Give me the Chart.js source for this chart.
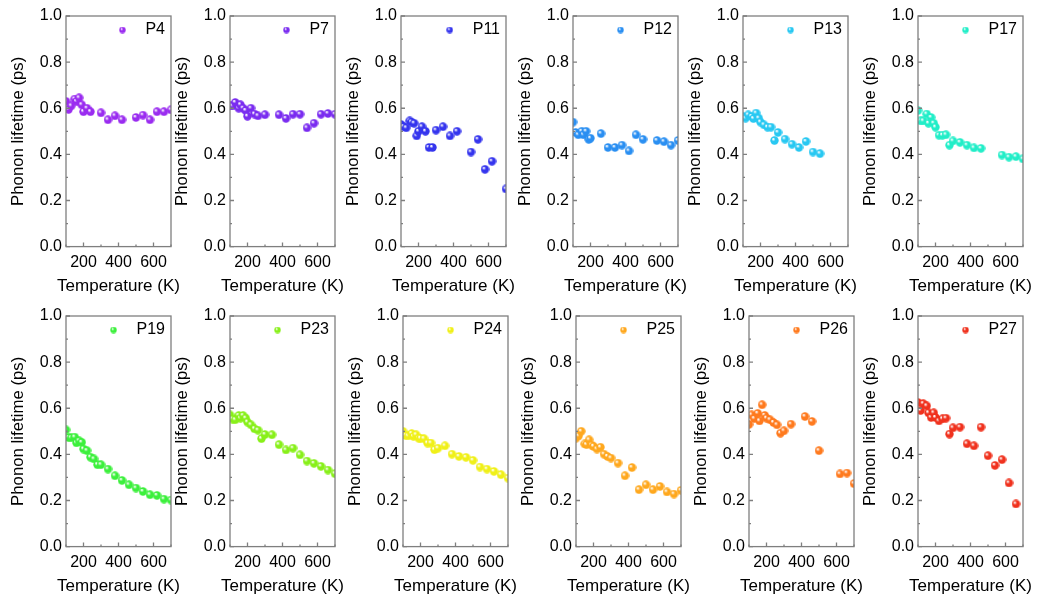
<!DOCTYPE html>
<html>
<head>
<meta charset="utf-8">
<script src="https://cdn.jsdelivr.net/npm/chart.js@4.4.0/dist/chart.umd.min.js"></script>
<style>
  body { margin: 0; background: #fff; }
  #wrap { position: relative; width: 1040px; height: 604px; overflow: hidden; }
  #wrap canvas { position: absolute; }
</style>
</head>
<body>
<div id="wrap"></div>
<script>
// temperature grid (K) shared by all panels
const temps = [100, 115, 130, 150, 160, 175, 190, 200, 220, 240, 260, 280, 300, 340, 380, 420, 460, 500, 540, 580, 620, 660, 700];

// phonon lifetime (ps), null = no point at that temperature
const p4  = [0.63, 0.595, 0.61, 0.64, 0.63, 0.645, 0.615, 0.585, 0.60, 0.585, null, null, 0.58, 0.55, 0.567, 0.55, null, 0.56, 0.57, 0.55, 0.585, 0.585, 0.593];
const p7  = [0.61, 0.61, 0.625, 0.60, 0.615, 0.60, 0.59, 0.565, 0.60, 0.575, 0.567, null, 0.572, null, 0.572, 0.556, 0.574, 0.574, 0.515, 0.535, 0.574, 0.577, 0.574];
const p11 = [0.53, 0.52, 0.515, 0.545, 0.54, 0.535, 0.48, 0.50, 0.52, 0.50, 0.43, 0.43, 0.505, 0.52, 0.48, 0.50, null, 0.41, 0.465, 0.335, 0.37, null, 0.25];
const p12 = [0.54, 0.495, 0.485, 0.50, 0.485, 0.50, 0.465, 0.47, null, null, 0.49, null, 0.43, 0.43, 0.44, 0.415, 0.485, 0.465, null, 0.46, 0.455, 0.44, 0.46];
const p13 = [0.565, 0.557, 0.571, 0.564, 0.555, 0.579, 0.557, 0.54, 0.528, 0.518, 0.518, 0.46, 0.495, 0.466, 0.444, 0.43, 0.456, 0.41, 0.403, null, null, null, null];
const p17 = [0.59, 0.545, 0.545, 0.575, 0.535, 0.56, 0.535, 0.518, 0.483, 0.483, 0.485, 0.44, 0.458, 0.452, 0.44, 0.428, 0.426, null, null, 0.397, 0.388, 0.39, 0.38];
const p19 = [0.506, 0.473, 0.472, 0.475, 0.45, 0.459, 0.452, 0.423, 0.416, 0.388, 0.38, 0.355, 0.355, 0.336, 0.307, 0.287, 0.268, 0.254, 0.239, 0.225, 0.222, 0.206, 0.202];
const p23 = [0.571, 0.553, 0.55, 0.568, 0.557, 0.568, 0.557, 0.54, 0.528, 0.511, 0.505, 0.468, 0.486, 0.485, 0.442, 0.419, 0.427, 0.398, 0.371, 0.361, 0.348, 0.332, 0.316];
const p24 = [0.50, 0.482, 0.48, 0.49, 0.478, 0.485, 0.47, 0.47, 0.468, 0.449, 0.449, 0.42, 0.427, 0.437, 0.401, 0.391, 0.387, 0.374, 0.345, 0.336, 0.326, 0.312, 0.297];
const p25 = [0.47, 0.48, 0.50, 0.445, 0.442, 0.463, 0.44, 0.435, 0.423, 0.431, 0.401, 0.391, 0.384, 0.362, 0.307, 0.343, 0.247, 0.268, 0.247, 0.261, 0.237, 0.228, 0.244];
const p26 = [0.53, 0.571, 0.555, 0.578, 0.545, 0.615, 0.569, 0.557, 0.55, 0.538, 0.528, 0.492, 0.502, 0.531, null, 0.564, 0.543, 0.416, null, null, 0.315, 0.319, 0.273];
const p27 = [0.625, 0.59, 0.62, 0.61, 0.58, 0.56, 0.58, 0.56, 0.545, 0.554, 0.557, 0.488, 0.515, 0.518, 0.446, 0.437, 0.518, 0.394, 0.352, 0.377, 0.276, 0.185, null];

const names = ["P4", "P7", "P11", "P12", "P13", "P17", "P19", "P23", "P24", "P25", "P26", "P27"];
const series = [p4, p7, p11, p12, p13, p17, p19, p23, p24, p25, p26, p27];

const xTicks = [200, 400, 600];
const xMinor = [100, 300, 500, 700];
const yTicks = [0, 0.2, 0.4, 0.6, 0.8, 1.0];
const yMinor = [0.1, 0.3, 0.5, 0.7, 0.9];

const COLORS = ["#9a2cf0", "#7a2cf0", "#3535ee", "#2a8ff2", "#28c8f2", "#22eec8",
                "#3cf03c", "#88f01a", "#f0f018", "#ffa81e", "#ff7a1e", "#f0321e"];

// plot-area left edges per row (px)
const LEFTS = [[66, 230, 401, 573, 743, 918], [66, 230, 403, 576, 749, 918]];
const AXIS_W = 66, PLOT_W = 105, CANVAS_H = 300;

const FONT = '"Liberation Sans", Arial, sans-serif';
Chart.defaults.font.family = FONT;
Chart.defaults.font.size = 16;
Chart.defaults.color = "#000";

// small shaded ball used as point style
function ball(color, size) {
  const c = document.createElement("canvas");
  c.width = c.height = size;
  const g = c.getContext("2d");
  const r = size / 2;
  const grad = g.createRadialGradient(r * 0.7, r * 0.65, r * 0.1, r, r, r);
  grad.addColorStop(0, "#ffffff");
  grad.addColorStop(0.35, color);
  grad.addColorStop(1, color);
  g.fillStyle = grad;
  g.beginPath();
  g.arc(r, r, r - 0.3, 0, Math.PI * 2);
  g.fill();
  return c;
}

const framePlugin = {
  id: "frame",
  afterDraw(chart) {
    const { ctx, chartArea: a, scales } = chart;
    ctx.save();
    ctx.strokeStyle = "#7f7f7f";
    ctx.lineWidth = 1.3;
    ctx.strokeRect(a.left, a.top, a.right - a.left, a.bottom - a.top);
    ctx.beginPath();
    yTicks.forEach(v => { const p = scales.y.getPixelForValue(v); ctx.moveTo(a.left, p); ctx.lineTo(a.left + 4, p); });
    yMinor.forEach(v => { const p = scales.y.getPixelForValue(v); ctx.moveTo(a.left, p); ctx.lineTo(a.left + 2, p); });
    xTicks.forEach(v => { const p = scales.x.getPixelForValue(v); ctx.moveTo(p, a.bottom); ctx.lineTo(p, a.bottom - 4); });
    xMinor.forEach(v => { const p = scales.x.getPixelForValue(v); ctx.moveTo(p, a.bottom); ctx.lineTo(p, a.bottom - 2); });
    ctx.stroke();
    ctx.restore();
  }
};

const legendPlugin = {
  id: "cornerLegend",
  afterDatasetsDraw(chart) {
    const { ctx, chartArea: a } = chart;
    const ds = chart.data.datasets[0];
    ctx.save();
    ctx.font = "16px " + FONT;
    ctx.fillStyle = "#000";
    ctx.textAlign = "right";
    ctx.textBaseline = "middle";
    const tx = a.right - 6, ty = a.top + 14;
    ctx.fillText(ds.label, tx, ty);
    const w = ctx.measureText(ds.label).width;
    const img = ds.legendBall;
    ctx.drawImage(img, tx - w - 23 - img.width / 2, ty - img.height / 2);
    ctx.restore();
  }
};

const wrap = document.getElementById("wrap");

names.forEach((name, i) => {
  const row = Math.floor(i / 6), col = i % 6;
  const plotLeft = LEFTS[row][col];
  const canvas = document.createElement("canvas");
  // plot area centred in the canvas so the bottom title centres under it
  canvas.width = AXIS_W * 2 + PLOT_W;
  canvas.height = CANVAS_H;
  canvas.style.left = (plotLeft - AXIS_W) + "px";
  canvas.style.top = (row * 300) + "px";
  wrap.appendChild(canvas);

  const points = temps.map((t, k) => ({ x: t, y: series[i][k] })).filter(p => p.y !== null);

  new Chart(canvas, {
    type: "scatter",
    data: {
      datasets: [{
        label: name,
        data: points,
        pointStyle: ball(COLORS[i], 9),
        legendBall: ball(COLORS[i], 7),
        pointRadius: 4.5,
        clip: 0
      }]
    },
    options: {
      responsive: false,
      animation: false,
      events: [],
      layout: { autoPadding: false, padding: { top: 16, right: 0, left: 0, bottom: 0 } },
      plugins: {
        legend: { display: false },
        tooltip: { enabled: false },
        title: {
          display: true,
          position: "bottom",
          text: "Temperature (K)",
          color: "#000",
          font: { size: 17, weight: "normal" },
          padding: { top: 0, bottom: 3 }
        }
      },
      scales: {
        x: {
          type: "linear",
          min: 100,
          max: 700,
          afterBuildTicks: s => { s.ticks = xTicks.map(v => ({ value: v })); },
          afterFit: s => { s.height = 30; },
          grid: { display: false, drawTicks: false },
          border: { display: false },
          ticks: { padding: 6 }
        },
        y: {
          min: 0,
          max: 1,
          afterBuildTicks: s => { s.ticks = yTicks.map(v => ({ value: v })); },
          afterFit: s => { s.width = AXIS_W; },
          grid: { display: false, drawTicks: false },
          border: { display: false },
          ticks: { padding: 4, callback: v => v.toFixed(1) },
          title: { display: true, text: "Phonon lifetime (ps)", font: { size: 16.8 }, padding: { top: 8, bottom: 0 } }
        },
        // empty right-hand spacer so the plot sits in the middle of the canvas
        spacer: {
          position: "right",
          min: 0,
          max: 1,
          afterFit: s => { s.width = AXIS_W; },
          grid: { display: false, drawTicks: false },
          border: { display: false },
          ticks: { display: false }
        }
      }
    },
    plugins: [framePlugin, legendPlugin]
  });
});
</script>
</body>
</html>
